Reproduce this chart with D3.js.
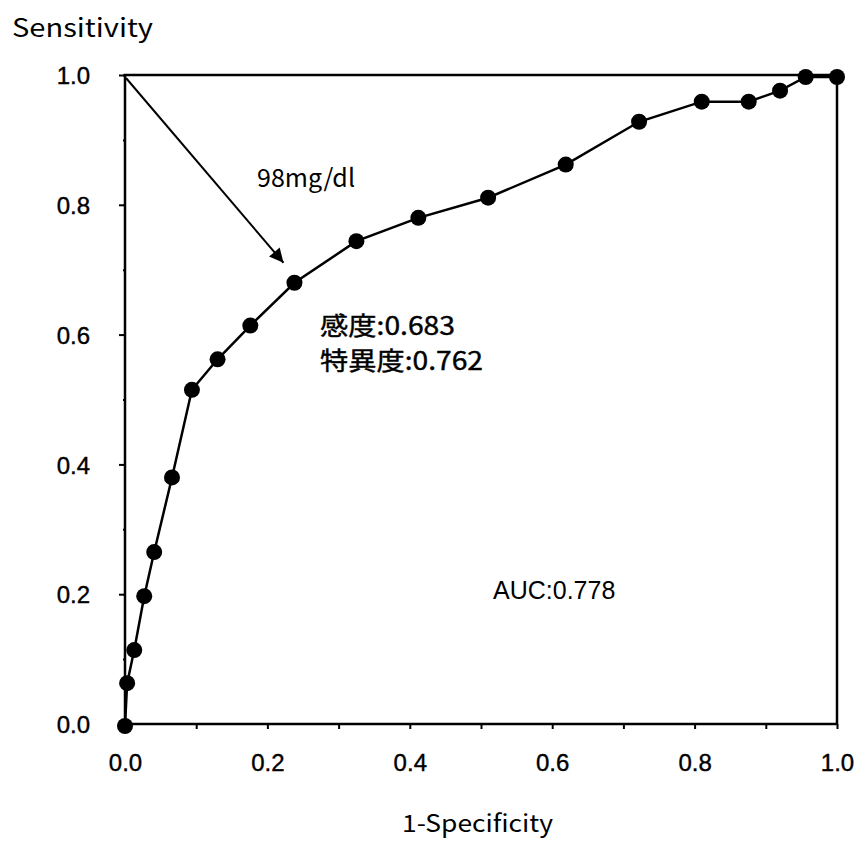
<!DOCTYPE html>
<html>
<head>
<meta charset="utf-8">
<script src="https://cdn.jsdelivr.net/npm/d3@7"></script>
<style>
  body { margin: 0; background: #fff; }
  svg { display: block; }
</style>
</head>
<body>
<svg id="chart" width="854" height="841"></svg>
<script>
// ROC curve points
var oneMinusSpec = [0, 0.003, 0.013, 0.027, 0.041, 0.066, 0.094, 0.130, 0.176, 0.238,
                    0.325, 0.412, 0.510, 0.619, 0.722, 0.810, 0.876, 0.920, 0.956, 1.0];
var sensitivity  = [0, 0.066, 0.117, 0.200, 0.268, 0.383, 0.518, 0.565, 0.617, 0.683,
                    0.747, 0.783, 0.814, 0.865, 0.931, 0.962, 0.962, 0.979, 1.0, 1.0];
var tickLabels = [0, 0.2, 0.4, 0.6, 0.8, 1.0];
var minorTicks = [0, 0.1, 0.2, 0.3, 0.4, 0.5, 0.6, 0.7, 0.8, 0.9, 1.0];
var cutoff = { x: 0.238, y: 0.683, label: "98mg/dl" };
var notes = ["感度:0.683", "特異度:0.762"];
var aucText = "AUC:0.778";

(function() {
    'use strict';
    var svg = d3.select("#chart"),
        pLeft = 125, pRight = 837, pTop = 75, pBottom = 724;

    var x = d3.scaleLinear().domain([0, 1]).range([pLeft, pRight]),
        y = d3.scaleLinear().domain([0, 1]).range([pBottom, pTop]);

    var sans = "'Liberation Sans', Arial, sans-serif",
        gothic = "'Noto Sans CJK JP', sans-serif";

    /* x axis, ticks every 0.1, labels every 0.2 */
    var xAxis = svg.append("g")
        .attr("transform", "translate(0," + pBottom + ")")
        .call(d3.axisBottom(x).tickValues(minorTicks).tickSize(5).tickPadding(25)
            .tickFormat(function(d) {
                return tickLabels.some(function(t) { return Math.abs(t - d) < 1e-9; }) ? d3.format(".1f")(d) : "";
            }));

    /* y axis: major ticks at 0.2, small ones at 0.1 */
    var yAxis = svg.append("g")
        .attr("transform", "translate(" + pLeft + ",0)")
        .call(d3.axisLeft(y).tickValues(tickLabels).tickSize(6).tickPadding(29).tickFormat(d3.format(".1f")));
    var yMinor = svg.append("g")
        .attr("transform", "translate(" + pLeft + ",0)")
        .call(d3.axisLeft(y).tickValues(minorTicks).tickSize(2).tickFormat(""));

    [xAxis, yAxis, yMinor].forEach(function(a) {
        a.attr("font-size", null).attr("font-family", null);
        a.select(".domain").remove();
        a.selectAll("line").attr("stroke", "#000").attr("stroke-width", 2);
        a.selectAll("text")
            .style("font-family", sans).style("font-size", "24px")
            .attr("fill", "#000").attr("stroke", "#000").attr("stroke-width", 0.4);
    });
    yAxis.selectAll("text").attr("dy", "0.36em");

    /* frame */
    svg.append("rect")
        .attr("x", pLeft).attr("y", pTop)
        .attr("width", pRight - pLeft).attr("height", pBottom - pTop)
        .attr("fill", "none").attr("stroke", "#000").attr("stroke-width", 2.5);

    /* curve */
    var pts = oneMinusSpec.map(function(d, i) { return [d, sensitivity[i]]; });
    var line = d3.line()
        .x(function(d) { return x(d[0]); })
        .y(function(d) { return y(d[1]) + 2; });

    svg.append("path")
        .datum(pts)
        .attr("d", line)
        .attr("fill", "none")
        .attr("stroke", "#000")
        .attr("stroke-width", 2.5);

    svg.selectAll("circle.pt").data(pts).enter().append("circle")
        .attr("class", "pt")
        .attr("cx", function(d) { return x(d[0]); })
        .attr("cy", function(d) { return y(d[1]) + 2; })
        .attr("r", 8)
        .attr("fill", "#000");

    /* arrow from top-left corner to the cut-off point */
    svg.append("defs").append("marker")
        .attr("id", "head")
        .attr("viewBox", "0 0 10 10")
        .attr("refX", 10).attr("refY", 5)
        .attr("markerWidth", 12).attr("markerHeight", 7)
        .attr("markerUnits", "strokeWidth")
        .attr("orient", "auto")
        .append("path").attr("d", "M0,0L10,5L0,10Z").attr("fill", "#000");

    var ax0 = x(0) + 1, ay0 = y(1) + 3,
        ax1 = x(cutoff.x) - 11, ay1 = y(cutoff.y) - 18;
    svg.append("line")
        .attr("x1", ax0).attr("y1", ay0)
        .attr("x2", ax1).attr("y2", ay1)
        .attr("stroke", "#000").attr("stroke-width", 2)
        .attr("marker-end", "url(#head)");

    /* texts */
    svg.append("text")
        .attr("x", 12).attr("y", 37)
        .attr("font-family", gothic).attr("font-size", 25)
        .attr("textLength", 141).attr("lengthAdjust", "spacingAndGlyphs")
        .text("Sensitivity");

    svg.append("text")
        .attr("x", 402).attr("y", 832)
        .attr("font-family", gothic).attr("font-size", 24)
        .attr("textLength", 151).attr("lengthAdjust", "spacingAndGlyphs")
        .text("1-Specificity");

    svg.append("text")
        .attr("x", 257).attr("y", 187)
        .attr("font-family", gothic).attr("font-size", 25)
        .attr("textLength", 98).attr("lengthAdjust", "spacingAndGlyphs")
        .text(cutoff.label);

    svg.selectAll("text.note").data(notes).enter().append("text")
        .attr("class", "note")
        .attr("x", 320)
        .attr("y", function(d, i) { return 335 + i * 35; })
        .attr("font-family", gothic).attr("font-size", 25)
        .attr("stroke", "#000").attr("stroke-width", 0.4)
        .attr("textLength", function(d, i) { return i === 0 ? 135 : 163; })
        .attr("lengthAdjust", "spacingAndGlyphs")
        .text(function(d) { return d; });

    svg.append("text")
        .attr("x", 493).attr("y", 599)
        .attr("font-family", sans).attr("font-size", 25)
        .text(aucText);
}());
</script>
</body>
</html>
